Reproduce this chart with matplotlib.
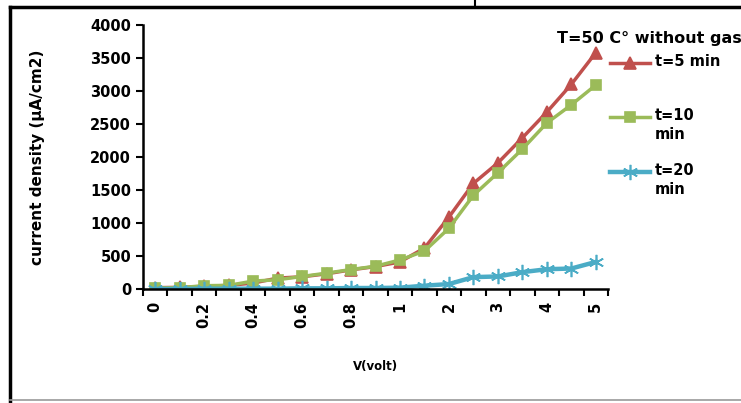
import matplotlib.pyplot as plt
import numpy as np
from matplotlib.lines import Line2D

plt.rcParams['font.family'] = 'DejaVu Sans'
plt.rcParams['font.weight'] = 'bold'
plt.rcParams['axes.labelweight'] = 'bold'

# voltage categories (Excel category axis, evenly spaced)
volts = ['0', '0.1', '0.2', '0.3', '0.4', '0.5', '0.6', '0.7', '0.8', '0.9', '1',
         '1.5', '2', '2.5', '3', '3.5', '4', '4.5', '5']
shown_labels = ['0', '0.2', '0.4', '0.6', '0.8', '1', '2', '3', '4', '5']

# current density (uA/cm2) for each time
t5 = [20, 25, 40, 55, 90, 165, 185, 230, 290, 340, 410,
      620, 1090, 1600, 1910, 2290, 2680, 3100, 3580]
t10 = [15, 20, 50, 55, 120, 140, 190, 240, 295, 345, 440,
       575, 920, 1420, 1760, 2120, 2515, 2790, 3090]
t20 = [0, 0, 5, 5, 5, 5, 10, 10, 15, 15, 20,
       50, 75, 180, 190, 255, 300, 310, 410]

series_labels = ['t=5 min', 't=10\nmin', 't=20\nmin']
colors = ['#C0504D', '#9BBB59', '#4BACC6']
markers = ['^', 's', (6, 2, 0)]
marker_sizes = [8, 7, 11]
line_widths = [2.5, 2.5, 3.2]

fig = plt.figure(figsize=(7.41, 4.03), dpi=100)
ax = fig.add_axes([143 / 741, 1 - 289 / 403, 465 / 741, 264 / 403])

x = np.arange(len(volts))
for vals, c, m, ms, lw in zip([t5, t10, t20], colors, markers, marker_sizes, line_widths):
    ax.plot(x, vals, color=c, marker=m, lw=lw, ms=ms, mew=1.2)

ax.set_xlim(-0.5, len(volts) - 0.5)
ax.set_ylim(0, 4000)
ax.set_yticks(np.arange(0, 4001, 500))
ax.tick_params(axis='y', labelsize=10.5, width=1.5, length=5)

# category ticks between points, labels on every other category
ax.set_xticks(np.arange(len(volts) + 1) - 0.5)
ax.set_xticklabels([])
ax.set_xticks(np.arange(0, len(volts), 2), minor=True)
ax.set_xticklabels(shown_labels, minor=True, rotation=90, fontsize=10.5)
ax.tick_params(axis='x', which='major', width=1.5, length=5)
ax.tick_params(axis='x', which='minor', length=0, pad=9)

for s in ['top', 'right']:
    ax.spines[s].set_visible(False)
for s in ['left', 'bottom']:
    ax.spines[s].set_linewidth(1.8)

ax.set_ylabel('current density (\u03bcA/cm2)', fontsize=11)
ax.yaxis.set_label_coords(-0.21, 0.5)
ax.set_xlabel('V(volt)', fontsize=8.5)
ax.xaxis.set_label_coords(0.5, -0.27)

# legend drawn to the right of the axes like the Excel layout
fig.text(557 / 741, 1 - 38 / 403, 'T=50 C\u00b0 without gas', fontsize=11.5, va='center')
entry_y = [63, 117, 172]
for lab, c, m, ms, lw, yy in zip(series_labels, colors, markers, marker_sizes, line_widths, entry_y):
    yf = 1 - yy / 403
    fig.add_artist(Line2D([610 / 741, 650 / 741], [yf, yf], transform=fig.transFigure,
                          color=c, lw=lw))
    fig.add_artist(Line2D([630 / 741], [yf], transform=fig.transFigure, color=c,
                          marker=m, ms=ms, mew=1.2))
    fig.text(655 / 741, yf + 9 / 403, lab, fontsize=10.5, va='top', linespacing=1.35)

# outer chart frame
fig.add_artist(Line2D([10 / 741, 10 / 741], [1 - 7 / 403, 0], transform=fig.transFigure,
                      color='black', lw=2.5))
fig.add_artist(Line2D([10 / 741, 1], [1 - 7 / 403, 1 - 7 / 403], transform=fig.transFigure,
                      color='black', lw=2.5))
fig.add_artist(Line2D([475 / 741, 475 / 741], [1, 1 - 7 / 403], transform=fig.transFigure,
                      color='black', lw=1.5))
fig.add_artist(Line2D([10 / 741, 1], [3 / 403, 3 / 403], transform=fig.transFigure,
                      color='#999999', lw=1.2))

fig.savefig('out.png', dpi=100)
